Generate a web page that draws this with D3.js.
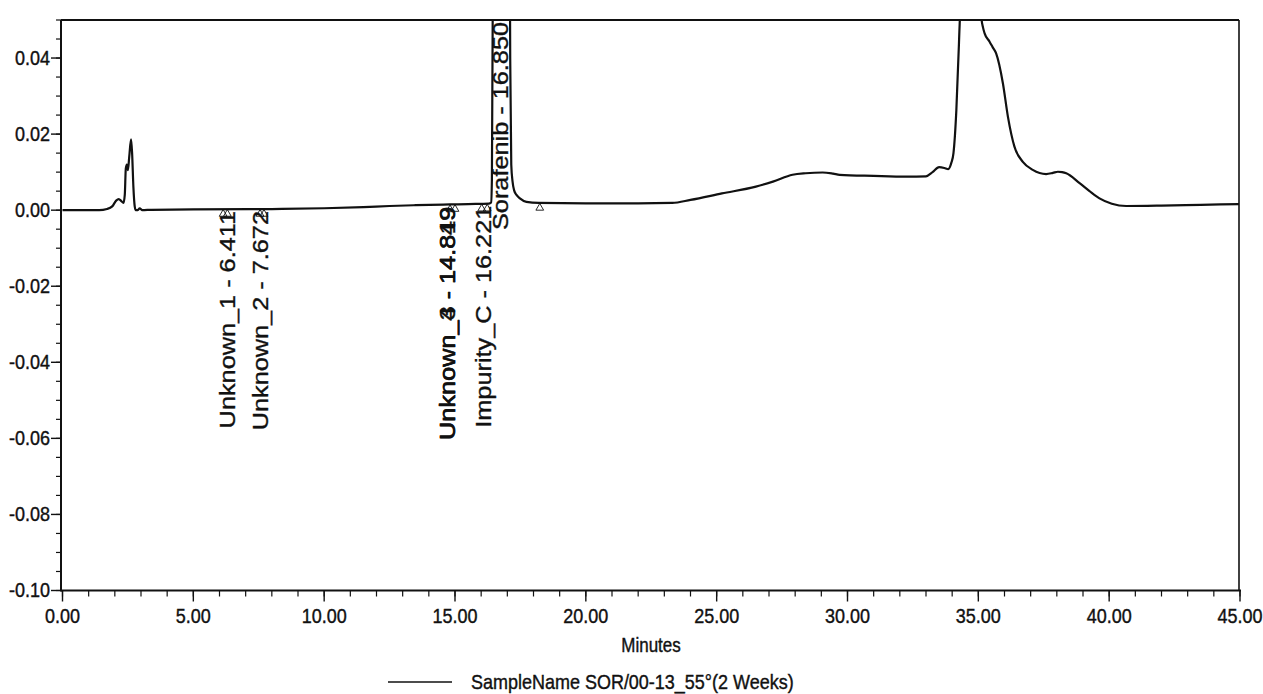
<!DOCTYPE html>
<html>
<head>
<meta charset="utf-8">
<script src="https://cdn.jsdelivr.net/npm/d3@7/dist/d3.min.js"></script>
<style>
  html, body { margin: 0; padding: 0; background: #fff; }
  svg { display: block; }
  text { font-family: "Liberation Sans", Arial, sans-serif; fill: #111; stroke: #111; stroke-width: 0.35px; }
</style>
</head>
<body>
<svg id="chart" width="1263" height="694"></svg>
<script>
// Chromatogram trace: retention time (minutes) and detector response (AU)
const traceTime = [
  0.00, 1.40, 1.70, 1.90, 2.05, 2.15, 2.25, 2.33, 2.38, 2.42, 2.46, 2.50, 2.55, 2.62, 2.66, 2.71, 2.76,
  2.80, 2.88, 2.95, 3.05, 3.40, 5.00, 8.00, 10.00, 11.50, 12.50, 13.50, 14.80, 15.50, 16.30,
  16.38, 16.41, 16.44, 16.48, 16.85, 17.05, 17.11, 17.15, 17.20, 17.26, 17.35, 17.48, 17.73, 18.20,
  20.00, 22.00, 23.30, 24.00, 25.20, 26.50, 27.15, 27.90, 28.40, 29.05, 29.45, 29.70, 31.00, 32.25,
  33.00, 33.25, 33.50, 33.70, 33.85, 33.97, 34.05, 34.16, 34.26, 34.36, 34.70, 35.04, 35.11, 35.18,
  35.24, 35.43, 35.55, 35.68, 35.94, 36.13, 36.38, 36.70, 37.08, 37.59, 37.85, 38.04, 38.20, 38.36,
  38.87, 39.25, 39.63, 40.10, 40.65, 42.00, 43.50, 45.00
];
const traceAU = [
  0.0000, 0.0000, 0.0003, 0.0010, 0.0025, 0.0029, 0.0024, 0.0019, 0.0040, 0.0110, 0.0120, 0.0105, 0.0140, 0.0186, 0.0150, 0.0060, 0.0010,
  0.0000, 0.0000, 0.0005, 0.0000, 0.0001, 0.0002, 0.0003, 0.0005, 0.0008, 0.0011, 0.0013, 0.0015, 0.0016, 0.0017,
  0.0020, 0.0080, 0.0500, 0.1500, 0.9000, 0.1500, 0.0400, 0.0120, 0.0075, 0.0052, 0.0040, 0.0031, 0.0022, 0.0019,
  0.0018, 0.0018, 0.0019, 0.0027, 0.0044, 0.0062, 0.0075, 0.0093, 0.0097, 0.0099, 0.0096, 0.0093, 0.0090, 0.0088,
  0.0089, 0.0100, 0.0113, 0.0111, 0.0108, 0.0125, 0.0150, 0.0263, 0.0439, 0.0700, 0.6000, 0.0700, 0.0510, 0.0480,
  0.0465, 0.0443, 0.0428, 0.0412, 0.0333, 0.0246, 0.0167, 0.0127, 0.0106, 0.0095, 0.0098, 0.0101, 0.0100, 0.0097,
  0.0071, 0.0050, 0.0031, 0.0017, 0.0011, 0.0012, 0.0014, 0.0016
];

// Integrated peaks: name, retention time, apex response
const peakNames = ["Unknown_1", "Unknown_2", "Unknown_3", "Unknown_4", "Impurity_C", "Sorafenib"];
const peakTimes = [6.411, 7.672, 14.819, 14.849, 16.221, 16.850];
const peakApex  = [0.0003, 0.0003, 0.0015, 0.0014, 0.0017, 0.9000];

// Integration start / end markers
const markerTimes = [6.14, 6.30, 7.55, 7.70, 14.81, 15.00, 16.02, 16.23, 18.24];
const markerAU    = [0.0003, 0.0003, 0.0003, 0.0003, 0.0015, 0.0016, 0.0017, 0.0017, 0.0019];

// Axis ticks
const xTicks = [0, 5, 10, 15, 20, 25, 30, 35, 40, 45];
const yTicks = [-0.10, -0.08, -0.06, -0.04, -0.02, 0.00, 0.02, 0.04];

const xLabel = "Minutes";
const legendLabel = "SampleName SOR/00-13_55°(2 Weeks)";

// ---- drawing ----
const svg = d3.select("#chart");
const SY = 1.15; // printed text is taller than it is wide
const ink = "#111";

const x = d3.scaleLinear().domain([0, 45]).range([62.5, 1240]);
const y = d3.scaleLinear().domain([-0.10, 0.05]).range([590.5, 20]);

const pL = 61, pR = 1239, pT = 20, pB = 590.5;

function label(g, txt, px, py, size, anchor) {
  return g.append("text")
    .attr("transform", `translate(${px},${py}) scale(1,${SY})`)
    .attr("font-size", size)
    .attr("text-anchor", anchor)
    .text(txt);
}

// clip for the trace
svg.append("defs").append("clipPath").attr("id", "plotClip")
  .append("rect").attr("x", pL).attr("y", pT).attr("width", pR - pL).attr("height", pB - pT);

// frame: top and right borders
svg.append("line").attr("x1", pL).attr("x2", pR).attr("y1", pT).attr("y2", pT)
  .attr("stroke", ink).attr("stroke-width", 2);
svg.append("line").attr("x1", pR).attr("x2", pR).attr("y1", pT).attr("y2", pB)
  .attr("stroke", ink).attr("stroke-width", 1.6);

// y axis
const yAxis = svg.append("g");
yAxis.append("line").attr("x1", pL).attr("x2", pL).attr("y1", pT).attr("y2", pB + 1)
  .attr("stroke", ink).attr("stroke-width", 2);
y.ticks(30).forEach(v => {
  yAxis.append("line").attr("x1", pL - 5).attr("x2", pL).attr("y1", y(v)).attr("y2", y(v))
    .attr("stroke", ink).attr("stroke-width", 1.2);
});
yTicks.forEach(v => {
  yAxis.append("line").attr("x1", pL - 10).attr("x2", pL).attr("y1", y(v)).attr("y2", y(v))
    .attr("stroke", ink).attr("stroke-width", 1.4);
  label(yAxis, v.toFixed(2), pL - 11, y(v) + 6.5, 18, "end");
});

// x axis
const xAxis = svg.append("g");
xAxis.append("line").attr("x1", pL).attr("x2", x(45) + 1).attr("y1", pB).attr("y2", pB)
  .attr("stroke", ink).attr("stroke-width", 2);
x.ticks(45).forEach(v => {
  xAxis.append("line").attr("x1", x(v)).attr("x2", x(v)).attr("y1", pB).attr("y2", pB + 6)
    .attr("stroke", ink).attr("stroke-width", 1.2);
});
xTicks.forEach(v => {
  xAxis.append("line").attr("x1", x(v)).attr("x2", x(v)).attr("y1", pB).attr("y2", pB + 11)
    .attr("stroke", ink).attr("stroke-width", 1.4);
  label(xAxis, v.toFixed(2), x(v), 623, 18, "middle");
});
label(svg, xLabel, 651, 652, 17, "middle");

// trace
const pts = traceTime.map((t, i) => [t, traceAU[i]]);
const line = d3.line().x(d => x(d[0])).y(d => y(d[1])).curve(d3.curveMonotoneX);
svg.append("path").datum(pts)
  .attr("clip-path", "url(#plotClip)")
  .attr("d", line)
  .attr("fill", "none")
  .attr("stroke", ink)
  .attr("stroke-width", 2.2)
  .attr("stroke-linejoin", "round");

// integration markers
const tri = d3.symbol().type(d3.symbolTriangle).size(26);
markerTimes.forEach((t, i) => {
  svg.append("path")
    .attr("transform", `translate(${x(t)},${y(markerAU[i]) + 5})`)
    .attr("d", tri)
    .attr("fill", "none")
    .attr("stroke", ink)
    .attr("stroke-width", 0.9);
});

// peak labels, rotated, hanging from the apex (or from the top of the plot when off-scale)
const peakG = svg.append("g");
peakNames.forEach((n, i) => {
  const px = x(peakTimes[i]);
  const py = Math.max(y(peakApex[i]), pT) + 2;
  peakG.append("text")
    .attr("transform", `translate(${px},${py}) scale(1,${SY}) rotate(-90)`)
    .attr("font-size", 22)
    .attr("text-anchor", "end")
    .attr("dy", "0.2em")
    .text(`${n} - ${peakTimes[i].toFixed(3)}`);
});

// legend
svg.append("line").attr("x1", 388).attr("x2", 452).attr("y1", 682).attr("y2", 682)
  .attr("stroke", ink).attr("stroke-width", 1.6);
label(svg, legendLabel, 471, 689, 18, "start");
</script>
</body>
</html>
